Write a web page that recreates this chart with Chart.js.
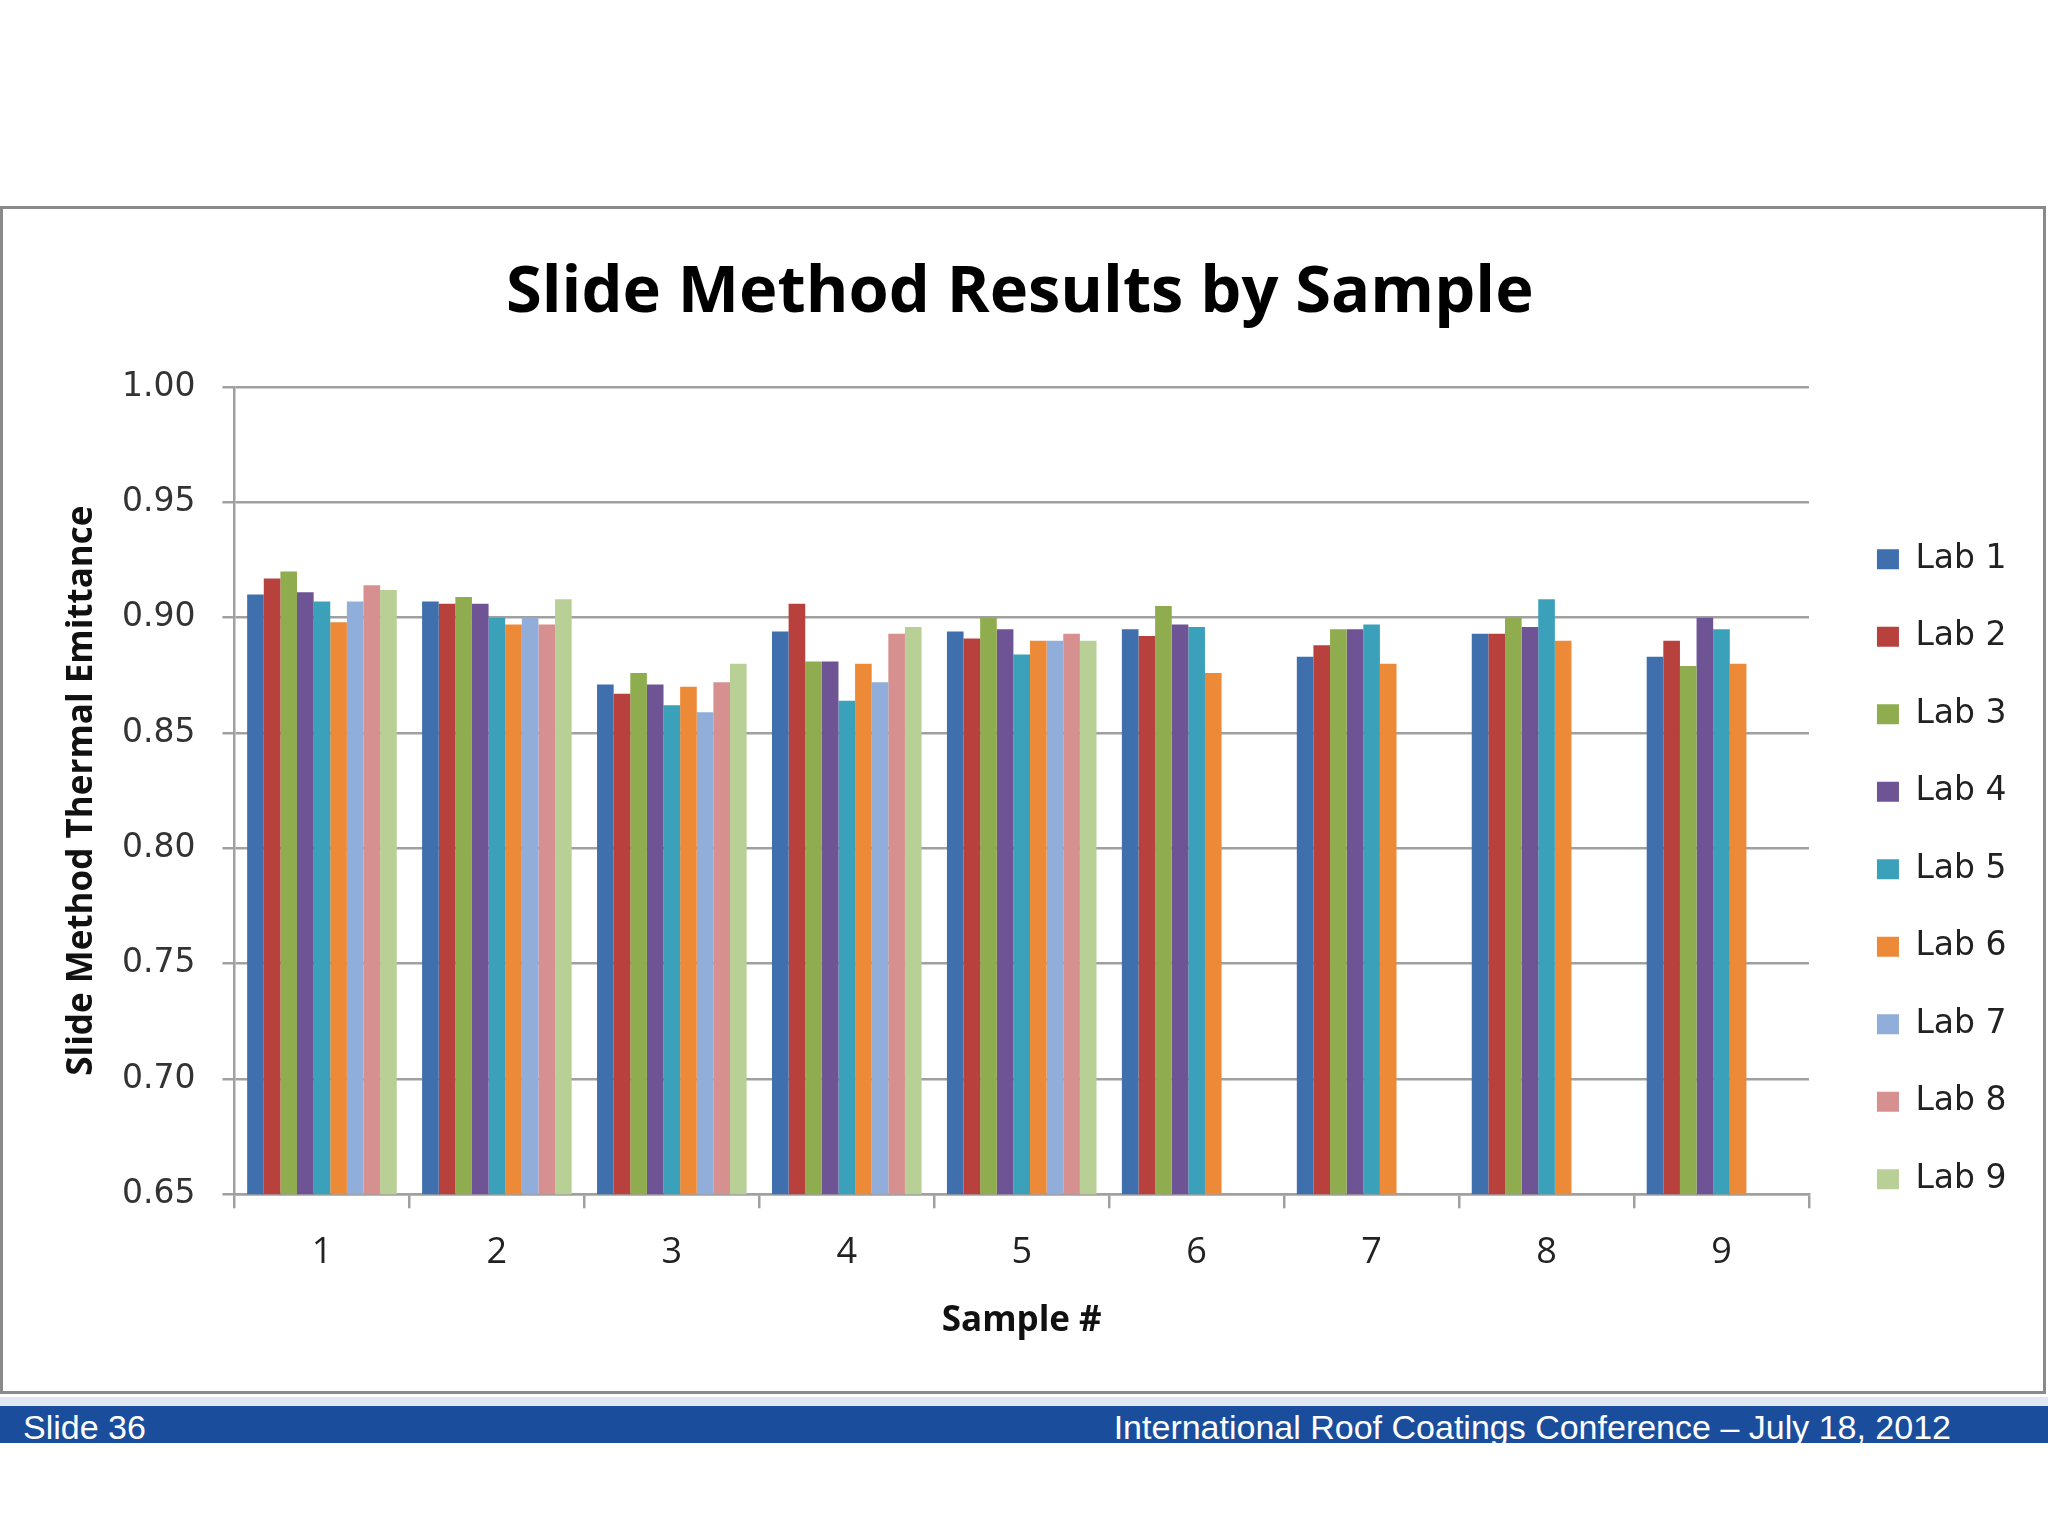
<!DOCTYPE html>
<html>
<head>
<meta charset="utf-8">
<script src="https://cdn.jsdelivr.net/npm/chart.js@4.4.1/dist/chart.umd.min.js"></script>
<style>
  html, body { margin: 0; padding: 0; background: #fff; }
  body { width: 2048px; height: 1536px; position: relative; overflow: hidden; }
  #frame {
    position: absolute; left: 0; top: 206px; width: 2046px; height: 1188px;
    box-sizing: border-box; border: 3px solid #8a8a8a; background: #fff;
  }
  #wrap { position: relative; width: 2040px; height: 1182px; }
  #strip { position: absolute; left: 0; top: 1397px; width: 2048px; height: 9px; background: #dfe7f3; }
  #band {
    position: absolute; left: 0; top: 1406px; width: 2048px; height: 37px;
    background: #1a4e9c; color: #fff; font-family: "Liberation Sans", Arial, sans-serif;
    font-size: 34px; line-height: 37px;
  }
  #band .l { position: absolute; left: 23px; top: 3px; }
  #band .r { position: absolute; right: 97px; top: 3px; }
</style>
</head>
<body>
<div id="frame"><div id="wrap"><canvas id="chart"></canvas></div></div>
<div id="strip"></div>
<div id="band"><span class="l">Slide 36</span><span class="r">International Roof Coatings Conference – July 18, 2012</span></div>
<script>
const samples = ["1", "2", "3", "4", "5", "6", "7", "8", "9"];
const labNames = ["Lab 1", "Lab 2", "Lab 3", "Lab 4", "Lab 5", "Lab 6", "Lab 7", "Lab 8", "Lab 9"];
const labColors = ["#3f6fac", "#b8413e", "#8fad4e", "#6e5495", "#3ba1bb", "#ec8a37", "#90aed9", "#d69090", "#b8d096"];

const lab1 = [0.910, 0.907, 0.871, 0.894, 0.894, 0.895, 0.883, 0.893, 0.883];
const lab2 = [0.917, 0.906, 0.867, 0.906, 0.891, 0.892, 0.888, 0.893, 0.890];
const lab3 = [0.920, 0.909, 0.876, 0.881, 0.900, 0.905, 0.895, 0.900, 0.879];
const lab4 = [0.911, 0.906, 0.871, 0.881, 0.895, 0.897, 0.895, 0.896, 0.900];
const lab5 = [0.907, 0.900, 0.862, 0.864, 0.884, 0.896, 0.897, 0.908, 0.895];
const lab6 = [0.898, 0.897, 0.870, 0.880, 0.890, 0.876, 0.880, 0.890, 0.880];
const lab7 = [0.907, 0.900, 0.859, 0.872, 0.890, null, null, null, null];
const lab8 = [0.914, 0.897, 0.872, 0.893, 0.893, null, null, null, null];
const lab9 = [0.912, 0.908, 0.880, 0.896, 0.890, null, null, null, null];

const yTicks = { min: 0.65, max: 1.0, step: 0.05 };

const labData = [lab1, lab2, lab3, lab4, lab5, lab6, lab7, lab8, lab9];
const gridGray = "#a0a0a0";

new Chart(document.getElementById("chart"), {
  type: "bar",
  data: {
    labels: samples,
    datasets: labData.map((d, i) => ({
      label: labNames[i],
      data: d,
      backgroundColor: labColors[i],
      borderWidth: 0,
      barPercentage: 1.0,
      categoryPercentage: 0.855,
    })),
  },
  options: {
    responsive: true,
    maintainAspectRatio: false,
    animation: false,
    layout: { padding: { left: 20, right: 26.5, top: 0, bottom: 48.5 } },
    plugins: {
      title: {
        display: true,
        text: "Slide Method Results by Sample",
        color: "#000",
        font: { family: "Open Sans", weight: "bold", size: 65 },
        padding: { top: 45, bottom: 55 },
      },
      legend: {
        position: "right",
        title: { display: true, text: "", font: { size: 10 }, padding: { top: 0, bottom: 175 } },
        labels: {
          color: "#222",
          font: { family: "DejaVu Sans", size: 33 },
          boxWidth: 22,
          boxHeight: 20,
          padding: 44.5,
        },
      },
      tooltip: { enabled: false },
    },
    scales: {
      x: {
        grid: { display: true, drawOnChartArea: false, color: gridGray, lineWidth: 2.5, tickLength: 14 },
        border: { color: gridGray, width: 2.5 },
        ticks: { color: "#222", font: { family: "Open Sans", size: 36 }, padding: 23 },
        title: {
          display: true,
          text: "Sample #",
          color: "#111",
          font: { family: "Open Sans", weight: "bold", size: 35 },
          padding: { top: 3, bottom: 0 },
        },
      },
      y: {
        min: yTicks.min,
        max: yTicks.max,
        grid: { color: gridGray, lineWidth: 2.5, tickLength: 12 },
        border: { color: gridGray, width: 2.5 },
        ticks: {
          stepSize: yTicks.step,
          color: "#333",
          font: { family: "DejaVu Sans", size: 33 },
          padding: 27,
          callback: (v) => Number(v).toFixed(2),
        },
        title: {
          display: true,
          text: "Slide Method Thermal Emittance",
          color: "#111",
          font: { family: "Open Sans", weight: "bold", size: 35 },
          padding: { top: 38, bottom: -8 },
        },
      },
      // empty spacer between the plot and the legend
      gap: {
        position: "right",
        type: "linear",
        grid: { display: false, drawTicks: false },
        border: { display: false },
        ticks: { display: false },
        afterFit: (s) => { s.width = 23.5; },
      },
    },
  },
});
</script>
</body>
</html>
